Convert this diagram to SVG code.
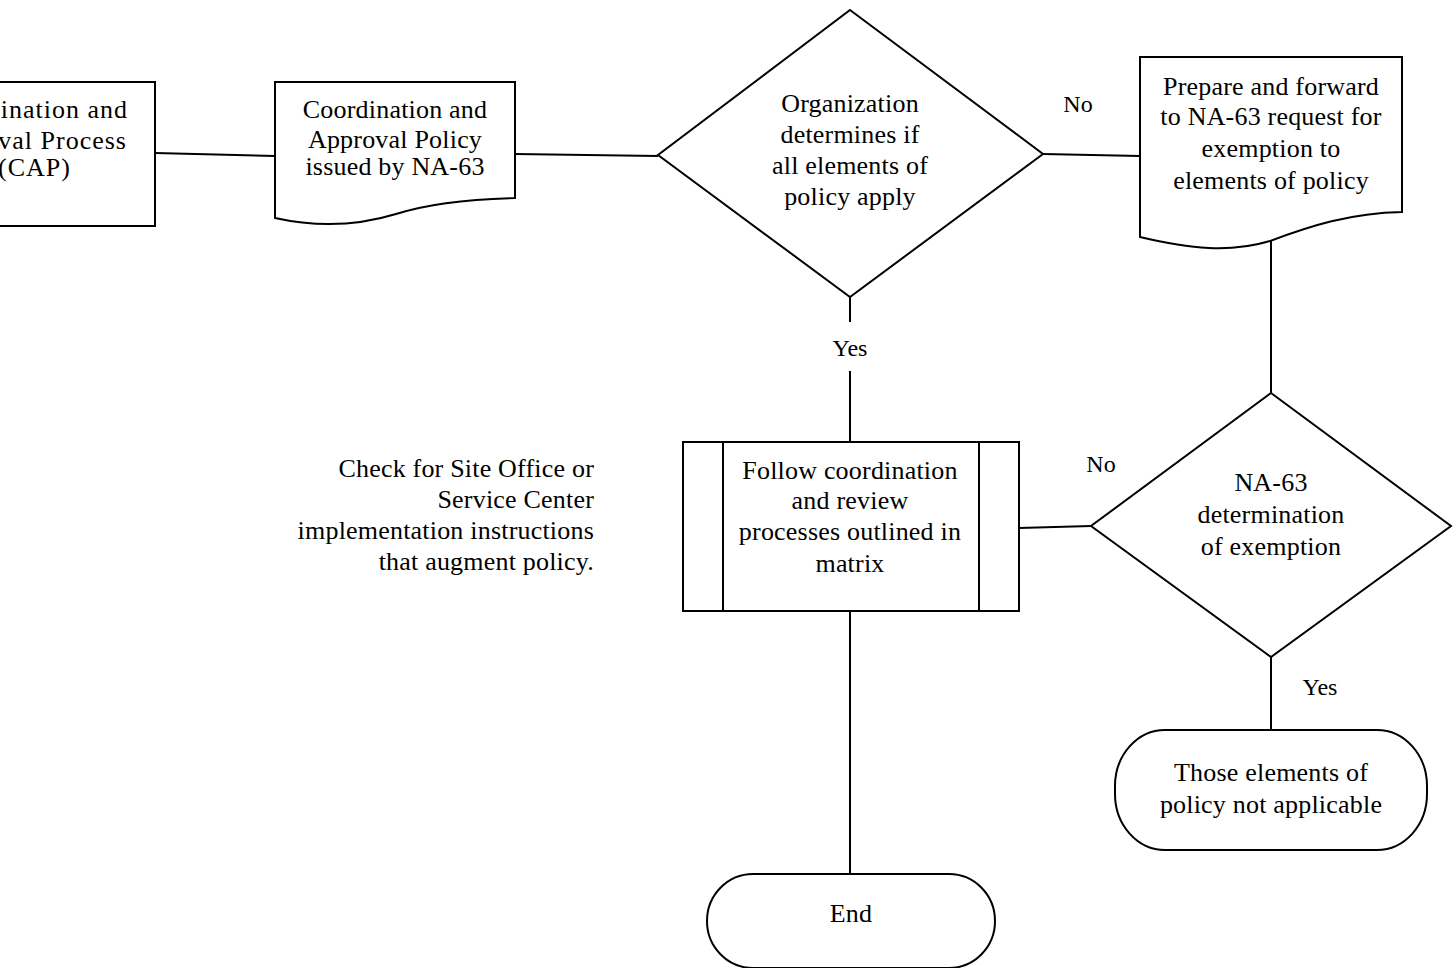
<svg xmlns="http://www.w3.org/2000/svg" width="1456" height="968" viewBox="0 0 1456 968">
<style>
.s{fill:#fff;stroke:#000;stroke-width:2}
.c{fill:none;stroke:#000;stroke-width:2}
text{font-family:"Liberation Serif","Times New Roman",serif;font-size:26px;letter-spacing:0.2px;fill:#000;text-anchor:middle}
.l{font-size:24px;letter-spacing:0}
.r{text-anchor:end}
.w{text-anchor:end;letter-spacing:1px}
</style>
<rect width="1456" height="968" fill="#fff"/>
<g id="connectors">
<path class="c" d="M155,153 L275,156"/>
<path class="c" d="M515,154 L658,156"/>
<path class="c" d="M1043,154 L1140,156"/>
<path class="c" d="M1271,241 V393"/>
<path class="c" d="M850,297 V322 M850,371 V442"/>
<path class="c" d="M1091,526 L1019,528"/>
<path class="c" d="M850,611 V874"/>
<path class="c" d="M1271,657 V730"/>
<text class="l" x="1078" y="112">No</text>
<text class="l" x="850" y="356">Yes</text>
<text class="l" x="1101" y="472">No</text>
<text class="l" x="1320" y="695">Yes</text>
</g>
<g id="cap">
<rect class="s" x="-85" y="82" width="240" height="144"/>
<text class="w" x="128" y="118">Coordination and</text>
<text class="w" x="127" y="149">Approval Process</text>
<text class="w" x="71" y="176">(CAP)</text>
</g>
<g id="policy">
<path class="s" d="M275,82 H515 V198 C470,199 430,203 396,214 C360,225 320,228 275,218 Z"/>
<text x="395" y="118">Coordination and</text>
<text x="395" y="148">Approval Policy</text>
<text x="395" y="175">issued by NA-63</text>
</g>
<g id="decision1">
<path class="s" d="M850,10 L1043,154 L850,297 L658,155 Z"/>
<text x="850" y="112">Organization</text>
<text x="850" y="143">determines if</text>
<text x="850" y="174">all elements of</text>
<text x="850" y="205">policy apply</text>
</g>
<g id="request">
<path class="s" d="M1140,57 H1402 V212 C1350,213 1310,226 1270,241 C1230,253 1190,249 1140,237 Z"/>
<text x="1271" y="95">Prepare and forward</text>
<text x="1271" y="125">to NA-63 request for</text>
<text x="1271" y="157">exemption to</text>
<text x="1271" y="189">elements of policy</text>
</g>
<g id="note">
<text class="r" x="594" y="477">Check for Site Office or</text>
<text class="r" x="594" y="508">Service Center</text>
<text class="r" x="594" y="539">implementation instructions</text>
<text class="r" x="594" y="570">that augment policy.</text>
</g>
<g id="process">
<rect class="s" x="683" y="442" width="336" height="169"/>
<path class="c" d="M723,442 V611 M979,442 V611"/>
<text x="850" y="479">Follow coordination</text>
<text x="850" y="509">and review</text>
<text x="850" y="540">processes outlined in</text>
<text x="850" y="572">matrix</text>
</g>
<g id="decision2">
<path class="s" d="M1271,393 L1451,526 L1271,657 L1091,526 Z"/>
<text x="1271" y="491">NA-63</text>
<text x="1271" y="523">determination</text>
<text x="1271" y="555">of exemption</text>
</g>
<g id="notapplicable">
<rect class="s" x="1115" y="730" width="312" height="120" rx="50" ry="56"/>
<text x="1271" y="781">Those elements of</text>
<text x="1271" y="813">policy not applicable</text>
</g>
<g id="end">
<rect class="s" x="707" y="874" width="288" height="94" rx="46" ry="47"/>
<text x="851" y="922">End</text>
</g>
</svg>
